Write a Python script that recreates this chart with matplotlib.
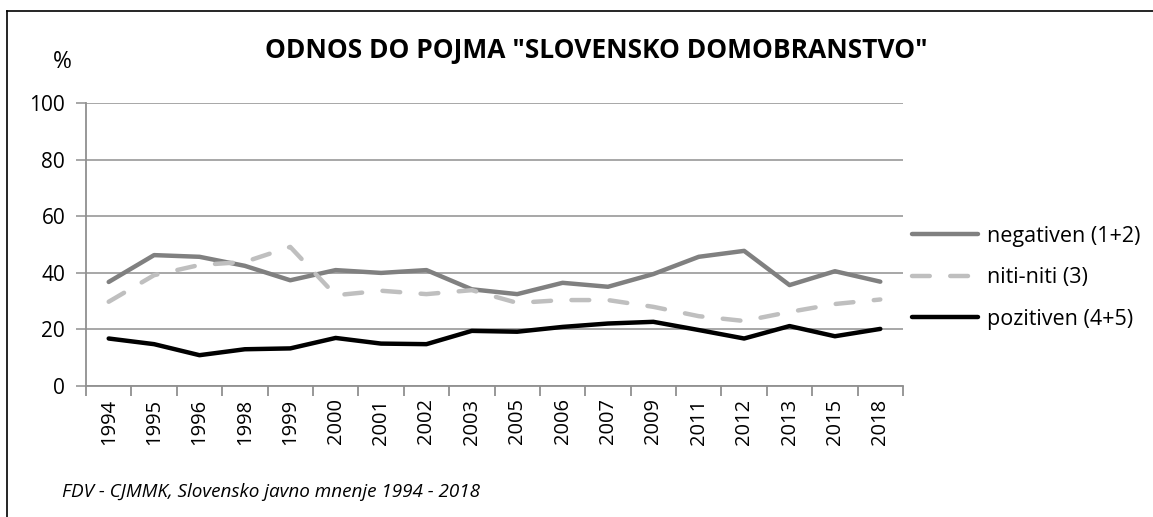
import numpy as np
import matplotlib.pyplot as plt
from matplotlib.lines import Line2D

# Data
years = ['1994', '1995', '1996', '1998', '1999', '2000', '2001', '2002', '2003',
         '2005', '2006', '2007', '2009', '2011', '2012', '2013', '2015', '2018']
negativen = [36.8, 46.3, 45.7, 42.5, 37.4, 41.0, 40.0, 41.0, 34.2,
             32.5, 36.5, 35.1, 39.6, 45.7, 47.8, 35.7, 40.6, 36.9]
niti_niti = [29.8, 39.2, 42.8, 43.9, 49.2, 32.1, 33.7, 32.5, 33.9,
             29.4, 30.4, 30.4, 28.0, 24.7, 23.0, 26.2, 29.0, 30.6]
pozitiven = [16.8, 14.8, 10.9, 13.0, 13.3, 17.0, 15.0, 14.8, 19.5,
             19.2, 20.9, 22.1, 22.7, 19.8, 16.8, 21.2, 17.6, 20.2]

plt.rcParams['font.family'] = ['Open Sans', 'DejaVu Sans']

W, H = 1153, 517
fig = plt.figure(figsize=(W / 100, H / 100), dpi=100)
ax = fig.add_axes([86 / W, (H - 386) / H, (903 - 86) / W, (386 - 103.3) / H])

x = np.arange(len(years))
lw = 3.2
ax.plot(x, negativen, color='#808080', lw=lw, solid_capstyle='round',
        solid_joinstyle='round', label='negativen (1+2)', zorder=3)
ax.plot(x, niti_niti, color='#BFBFBF', lw=lw, dashes=(4.0, 4.6),
        dash_capstyle='round', dash_joinstyle='round', label='niti-niti (3)', zorder=3)
ax.plot(x, pozitiven, color='#000000', lw=lw, solid_capstyle='round',
        solid_joinstyle='round', label='pozitiven (4+5)', zorder=4)

# axes / grid
ax.set_xlim(-0.5, len(years) - 0.5)
ax.set_ylim(0, 100)
ax.set_yticks(np.arange(0, 101, 20))
ax.yaxis.grid(True, color='#A0A0A0', lw=1.3)
ax.set_axisbelow(True)
for s in ['top', 'right']:
    ax.spines[s].set_visible(False)
for s in ['left', 'bottom']:
    ax.spines[s].set_color('#909090')
    ax.spines[s].set_linewidth(1.3)
ax.tick_params(axis='y', length=7, width=1.3, color='#A0A0A0', pad=8, labelsize=15)

ax.set_xticks(x)
ax.set_xticklabels(years, rotation=90, fontsize=14.5)
ax.tick_params(axis='x', length=0, pad=9)
ax.set_xticks(np.arange(-0.5, len(years), 1.0), minor=True)
ax.tick_params(axis='x', which='minor', length=7, width=1.3, color='#909090')

# legend
handles, labels = ax.get_legend_handles_labels()
fig.legend(handles, labels, loc='upper left', bbox_to_anchor=(903 / W, (H - 217) / H),
           frameon=False, fontsize=15.5, handlelength=3.1, handletextpad=0.4,
           labelspacing=0.95, borderaxespad=0)

# texts
fig.text(596 / W, (H - 50) / H, 'ODNOS DO POJMA "SLOVENSKO DOMOBRANSTVO"',
         ha='center', va='center', fontsize=19, fontweight='bold')
fig.text(62 / W, (H - 62) / H, '%', ha='center', va='center', fontsize=16.5)
fig.text(62 / W, (H - 492) / H, 'FDV - CJMMK, Slovensko javno mnenje 1994 - 2018',
         ha='left', va='center', fontsize=13.6, style='italic')

# outer frame (top and left edges)
fig.add_artist(Line2D([7 / W, 1.0], [(H - 11) / H] * 2, color='black', lw=1.2,
                      transform=fig.transFigure))
fig.add_artist(Line2D([7 / W] * 2, [0, (H - 11) / H], color='black', lw=1.2,
                      transform=fig.transFigure))

fig.savefig('out.png', dpi=100)
